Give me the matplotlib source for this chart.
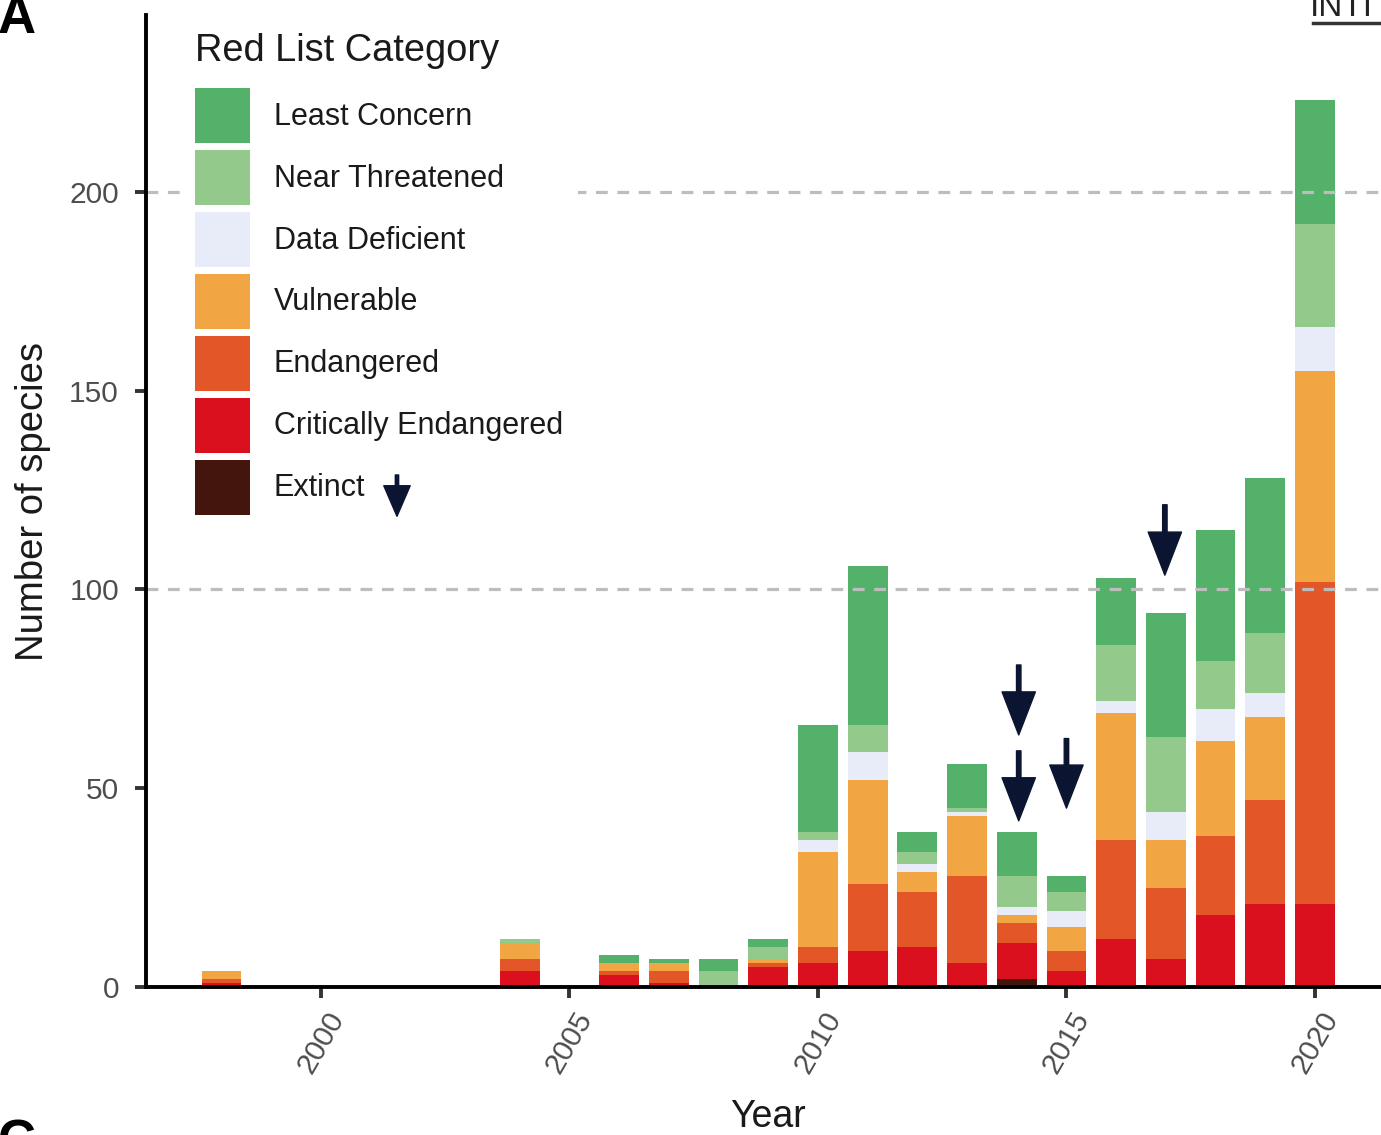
import matplotlib
matplotlib.use("Agg")
import matplotlib.pyplot as plt
from matplotlib.patches import Patch
from matplotlib.lines import Line2D

plt.rcParams['font.family'] = ['Liberation Sans', 'DejaVu Sans']

# ---------------- data ----------------
years = [1998, 2004, 2006, 2007, 2008, 2009, 2010, 2011, 2012, 2013,
         2014, 2015, 2016, 2017, 2018, 2019, 2020]
extinct = [0, 0, 0, 0, 0, 0, 0, 0, 0, 0, 2, 0, 0, 0, 0, 0, 0]
critically_endangered = [1, 4, 3, 1, 0, 5, 6, 9, 10, 6, 9, 4, 12, 7, 18, 21, 21]
endangered = [1, 3, 1, 3, 0, 1, 4, 17, 14, 22, 5, 5, 25, 18, 20, 26, 81]
vulnerable = [2, 4, 2, 2, 0, 1, 24, 26, 5, 15, 2, 6, 32, 12, 24, 21, 53]
data_deficient = [0, 0, 0, 0, 0, 0, 3, 7, 2, 1, 2, 4, 3, 7, 8, 6, 11]
near_threatened = [0, 1, 0, 0, 4, 3, 2, 7, 3, 1, 8, 5, 14, 19, 12, 15, 26]
least_concern = [0, 0, 2, 1, 3, 2, 27, 40, 5, 11, 11, 4, 17, 31, 33, 39, 31]

categories = ['Least Concern', 'Near Threatened', 'Data Deficient', 'Vulnerable',
              'Endangered', 'Critically Endangered', 'Extinct']
colors = ['#53b169', '#93c98a', '#e8ebf8', '#f2a643', '#e25628', '#db101e', '#43150c']

x_ticks = [2000, 2005, 2010, 2015, 2020]
y_ticks = [0, 50, 100, 150, 200]
grid_levels = [100, 200]

# stacking order, bottom -> top
stack = [extinct, critically_endangered, endangered, vulnerable,
         data_deficient, near_threatened, least_concern]
stack_colors = colors[::-1]

# ---------------- figure ----------------
W, H = 1381, 1135
fig = plt.figure(figsize=(W / 100, H / 100), dpi=100)
ax = fig.add_axes([146 / W, (H - 987) / H, (1390 - 146) / W, 972 / H])
ax.set_xlim(1996.48, 2021.51)
ax.set_ylim(0, 244.5)

bottom = [0] * len(years)
for vals, col in zip(stack, stack_colors):
    ax.bar(years, vals, bottom=bottom, width=0.8, color=col, edgecolor='none',
           linewidth=0, zorder=2)
    bottom = [b + v for b, v in zip(bottom, vals)]

for g in grid_levels:
    ax.axhline(g, color='#bdbdbd', lw=2.3, ls=(0, (3.7, 3.0)), zorder=3)

for s in ['top', 'right']:
    ax.spines[s].set_visible(False)
for s in ['left', 'bottom']:
    ax.spines[s].set_linewidth(2.8)
    ax.spines[s].set_color('black')
    ax.spines[s].set_zorder(4)

ax.set_yticks(y_ticks)
ax.set_xticks(x_ticks)
ax.set_xticklabels([str(t) for t in x_ticks], rotation=60, ha='center', va='top')
ax.tick_params(axis='both', length=8, width=2.8, color='#333333',
               labelcolor='#4d4d4d', labelsize=21.5)
ax.tick_params(axis='y', pad=11.5)
ax.tick_params(axis='x', pad=6)

ax.set_ylabel('Number of species', fontsize=27.5, color='#1a1a1a')
ax.yaxis.label.set_va('center')
ax.yaxis.set_label_coords((33 - 146) / 1244, 0.5)
ax.set_xlabel('Year', fontsize=27, color='#1a1a1a')
ax.xaxis.label.set_va('center')
ax.xaxis.set_label_coords(0.5, (987 - 1117) / 972)

# legend
fs = 22
handles = [Patch(facecolor=c, edgecolor='none') for c in colors]
leg = ax.legend(handles, categories, title='Red List Category',
                loc='upper left', bbox_to_anchor=(179.7 / W, 1 - 18.2 / H),
                bbox_transform=fig.transFigure, fontsize=fs, title_fontsize=27.4,
                handlelength=1.8, handleheight=2.39, labelspacing=0.23,
                handletextpad=0.78, borderpad=0.5, borderaxespad=0,
                frameon=True, fancybox=False, alignment='left')
leg.get_frame().set_facecolor('white')
leg.get_frame().set_edgecolor('none')
leg.get_frame().set_alpha(1)
leg.set_zorder(5)
leg._legend_box.sep = 13.1
for t in leg.get_texts():
    t.set_color('#1a1a1a')
leg.get_title().set_color('#1a1a1a')

# arrows marking extinct species
navy = '#0b1531'
big = dict(facecolor=navy, edgecolor=navy, width=3.2, headwidth=24,
           headlength=31, shrink=0)
for xa, yt, yh in [(2014.04, 81.0, 63.4), (2014.04, 59.4, 41.8),
                   (2015.0, 62.5, 45.0), (2016.98, 121.3, 103.6)]:
    ax.annotate('', xy=(xa, yh), xytext=(xa, yt), arrowprops=big, zorder=6)
small = dict(facecolor=navy, edgecolor=navy, width=2.4, headwidth=19,
             headlength=22, shrink=0)
ax.annotate('', xy=(2001.53, 118.4), xytext=(2001.53, 128.8), arrowprops=small,
            zorder=6)

# panel-crop remnants
fig.text(-2 / W, 1 - 33 / H, 'A', fontsize=38, fontweight='bold', ha='left',
         va='baseline', color='black')
fig.text(-2 / W, 1 - 1158 / H, 'C', fontsize=38, fontweight='bold', ha='left',
         va='baseline', color='black')
fig.text(1310 / W, 1 - 16 / H, 'INTI', fontsize=24, ha='left', va='baseline',
         color='#222222')
fig.add_artist(Line2D([1313 / W, 1.0], [1 - 23 / H, 1 - 23 / H], color='#333333',
                      lw=2.5, transform=fig.transFigure))

fig.savefig('out.png', dpi=100)
